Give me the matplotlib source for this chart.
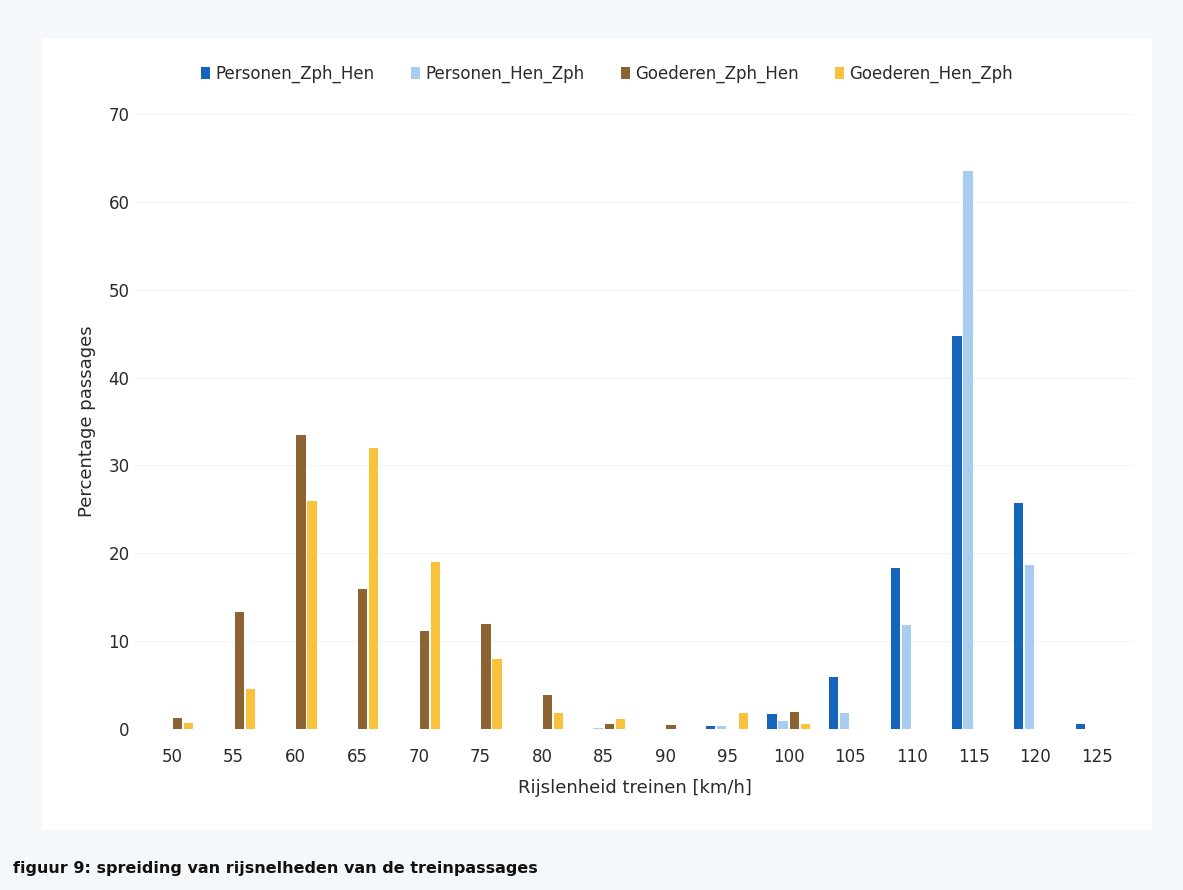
import matplotlib
matplotlib.use("Agg")
import matplotlib.pyplot as plt
from matplotlib.patches import Rectangle, Patch
import numpy as np

# Speed classes (km/h)
speeds = [50, 55, 60, 65, 70, 75, 80, 85, 90, 95, 100, 105, 110, 115, 120, 125]

# Share of passages per speed class (%)
personen_zph_hen = [0, 0, 0, 0, 0, 0, 0, 0, 0, 0.35, 1.7, 5.9, 18.3, 44.7, 25.7, 0.6]
personen_hen_zph = [0, 0, 0, 0, 0, 0, 0, 0.1, 0, 0.3, 0.9, 1.8, 11.8, 63.5, 18.7, 0]
goederen_zph_hen = [1.3, 13.3, 33.5, 15.9, 11.2, 11.9, 3.9, 0.6, 0.45, 0, 1.9, 0, 0, 0, 0, 0]
goederen_hen_zph = [0.7, 4.6, 25.9, 32.0, 19.0, 8.0, 1.8, 1.1, 0, 1.8, 0.6, 0, 0, 0, 0, 0]

series_names = ["Personen_Zph_Hen", "Personen_Hen_Zph", "Goederen_Zph_Hen", "Goederen_Hen_Zph"]
series_values = [personen_zph_hen, personen_hen_zph, goederen_zph_hen, goederen_hen_zph]
colors = ["#1565bd", "#a9cdf1", "#8c6433", "#f9c23c"]

yticks = [0, 10, 20, 30, 40, 50, 60, 70]

fig = plt.figure(figsize=(11.83, 8.90), dpi=100)
fig.patch.set_facecolor("#f5f8fb")

# white chart panel behind the axes
panel = Rectangle((42 / 1183, 1 - 830 / 890), (1152 - 42) / 1183, (830 - 38) / 890,
                  transform=fig.transFigure, facecolor="white", edgecolor="none", zorder=-10)
fig.add_artist(panel)

ax = fig.add_axes([135 / 1183, 1 - 729 / 890, (1134 - 135) / 1183, (729 - 114) / 890])
ax.set_zorder(5)
ax.set_facecolor("none")

x = np.arange(len(speeds))
offsets = [-0.27, -0.09, 0.09, 0.27]
width = 0.15
for vals, off, col, name in zip(series_values, offsets, colors, series_names):
    ax.bar(x + off, vals, width=width, color=col, label=name, zorder=2)

ax.set_xlim(-0.6, len(speeds) - 0.4)
ax.set_ylim(0, 70)
ax.set_yticks(yticks)
ax.set_xticks(x)
ax.set_xticklabels([str(s) for s in speeds])
for s in ax.spines.values():
    s.set_visible(False)
ax.tick_params(axis="both", length=0, labelsize=12, colors="#2a2a2a")
ax.tick_params(axis="x", pad=14)
ax.tick_params(axis="y", pad=4)
ax.yaxis.grid(True, color="#f4f4f4", linewidth=0.8, zorder=0)
ax.set_axisbelow(True)

ax.set_xlabel("Rijslenheid treinen [km/h]", fontsize=13, color="#2a2a2a", labelpad=9)
ax.set_ylabel("Percentage passages", fontsize=13, color="#2a2a2a", labelpad=9)

handles = [Patch(facecolor=c, edgecolor="none") for c in colors]
leg = fig.legend(handles, series_names, loc="center", bbox_to_anchor=(607 / 1183, 1 - 74 / 890),
                 ncol=4, frameon=False, fontsize=12, handlelength=0.55, handleheight=0.8,
                 handletextpad=0.3, columnspacing=2.2, labelcolor="#2a2a2a")
leg.set_zorder(6)

fig.text(13 / 1183, 1 - 869 / 890, "figuur 9: spreiding van rijsnelheden van de treinpassages",
         fontsize=11.5, fontweight="bold", color="#111111", va="center", ha="left")

fig.savefig("out.png", dpi=100, facecolor=fig.get_facecolor())
